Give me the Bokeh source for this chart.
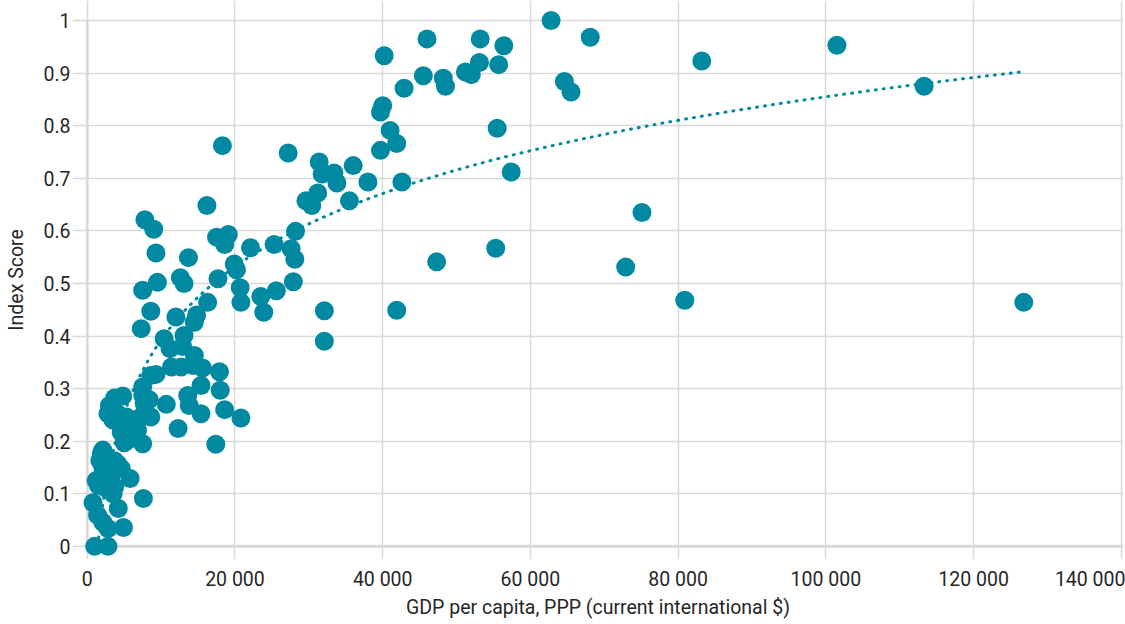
import numpy as np
from bokeh.plotting import figure
from bokeh.models import Range1d, FixedTicker, ColumnDataSource
from bokeh.embed import file_html
from bokeh.resources import INLINE

# GDP per capita, PPP (current international $)
gdp = [
    62800, 68100, 83200, 101500, 113300, 64600, 65500, 75100, 72900, 80900,
    126800, 46000, 53200, 56400, 53100, 55700, 51200, 52000, 45500, 48200,
    48500, 55500, 57400, 55300, 47300, 41900, 40200, 42900, 40000, 39700,
    41000, 41900, 39700, 42600, 38000, 36000, 31400, 31800, 33400, 33800,
    27200, 29600, 30400, 31200, 35500, 28200, 27600, 28100, 27900, 32100,
    32100, 18300, 16200, 7800, 9000, 17500, 19100, 18600, 9300, 13700,
    22100, 25300, 19900, 20200, 12600, 13100, 9500, 7500, 17700, 20700,
    20800, 23500, 23900, 25600, 8600, 12000, 16300, 14800, 14500, 7300,
    10400, 11200, 13100, 12900, 14500, 14300, 11400, 12700, 8600, 9300,
    15600, 17900, 15400, 18000, 13600, 13800, 10700, 7500, 7500, 7700,
    8400, 3700, 4800, 3200, 4100, 7700, 8600, 15400, 18600, 20800,
    12300, 17400, 7600, 7500, 5800, 4900, 4200, 1000, 2800, 770,
    1400, 2100, 2800, 1200, 1900, 1500, 2600, 3200, 3700, 3500,
    4100, 4600, 1900, 1700, 2100, 2800, 3700, 2100, 3900, 4600,
    5700, 6800, 5000, 3500, 2800, 5300, 7300, 5500, 1900, 3000,
]

# Index Score
score = [
    1.000, 0.968, 0.923, 0.953, 0.875, 0.884, 0.864, 0.635, 0.531, 0.468,
    0.464, 0.965, 0.965, 0.952, 0.920, 0.916, 0.902, 0.897, 0.895, 0.890,
    0.875, 0.795, 0.712, 0.567, 0.541, 0.449, 0.933, 0.871, 0.838, 0.826,
    0.791, 0.766, 0.753, 0.693, 0.693, 0.724, 0.731, 0.708, 0.710, 0.691,
    0.748, 0.657, 0.648, 0.672, 0.657, 0.599, 0.566, 0.546, 0.503, 0.448,
    0.390, 0.762, 0.648, 0.621, 0.603, 0.588, 0.593, 0.574, 0.558, 0.549,
    0.568, 0.574, 0.537, 0.526, 0.511, 0.500, 0.502, 0.487, 0.509, 0.492,
    0.464, 0.475, 0.445, 0.486, 0.447, 0.436, 0.464, 0.440, 0.426, 0.414,
    0.395, 0.376, 0.401, 0.380, 0.363, 0.344, 0.341, 0.341, 0.325, 0.327,
    0.339, 0.332, 0.306, 0.297, 0.287, 0.268, 0.270, 0.303, 0.288, 0.272,
    0.279, 0.282, 0.286, 0.268, 0.252, 0.252, 0.246, 0.252, 0.260, 0.244,
    0.224, 0.194, 0.091, 0.195, 0.129, 0.036, 0.072, 0.000, 0.000, 0.083,
    0.059, 0.046, 0.034, 0.125, 0.129, 0.116, 0.110, 0.132, 0.113, 0.100,
    0.157, 0.148, 0.176, 0.163, 0.151, 0.144, 0.163, 0.183, 0.240, 0.217,
    0.214, 0.221, 0.197, 0.240, 0.252, 0.246, 0.246, 0.202, 0.170, 0.268,
]

x_ticks = [0, 20000, 40000, 60000, 80000, 100000, 120000, 140000]
x_tick_labels = ["0", "20 000", "40 000", "60 000", "80 000", "100 000", "120 000", "140 000"]
y_ticks = [0, 0.1, 0.2, 0.3, 0.4, 0.5, 0.6, 0.7, 0.8, 0.9, 1]
y_tick_labels = ["0", "0.1", "0.2", "0.3", "0.4", "0.5", "0.6", "0.7", "0.8", "0.9", "1"]

TEAL = "#0089A0"
GRID = "#D9D9D9"
TEXT = "#262626"
FONT = "Roboto"

# logarithmic trend line fitted on the data
a, b = np.polyfit(np.log(gdp), score, 1)
tx = np.geomspace(min(gdp), max(gdp), 400)
ty = a * np.log(tx) + b
keep = ty >= 0
trend = ColumnDataSource(dict(x=tx[keep], y=ty[keep]))

X_END = 140300
p = figure(width=1125, height=624,
           x_range=Range1d(-2000, X_END), y_range=Range1d(-0.025, 1.038),
           output_backend="svg", toolbar_location=None,
           min_border_left=72, min_border_right=2, min_border_top=0, min_border_bottom=65)
p.outline_line_color = None
p.background_fill_color = "white"
p.border_fill_color = "white"

# grid
p.xgrid.ticker = FixedTicker(ticks=x_ticks)
p.ygrid.ticker = FixedTicker(ticks=y_ticks)
p.xgrid.grid_line_color = GRID
p.ygrid.grid_line_color = GRID
p.xgrid.grid_line_width = 1.5
p.ygrid.grid_line_width = 1.5

# axis lines at x=0 and y=0
p.segment(x0=[0], y0=[0], x1=[0], y1=[1], line_color=GRID, line_width=2.5)
p.segment(x0=[0], y0=[0], x1=[X_END], y1=[0], line_color=GRID, line_width=3)

# axes
for ax, ticks, labels in ((p.xaxis[0], x_ticks, x_tick_labels), (p.yaxis[0], y_ticks, y_tick_labels)):
    ax.ticker = FixedTicker(ticks=ticks)
    ax.major_label_overrides = {t: l for t, l in zip(ticks, labels)}
    ax.axis_line_color = None
    ax.major_tick_line_color = None
    ax.minor_tick_line_color = None
    ax.major_tick_out = 0
    ax.major_tick_in = 0
    ax.minor_tick_out = 0
    ax.minor_tick_in = 0
    ax.major_label_text_font = FONT
    ax.major_label_text_font_size = "19.5px"
    ax.major_label_text_color = TEXT
    ax.axis_label_text_font = FONT
    ax.axis_label_text_font_size = "19.5px"
    ax.axis_label_text_font_style = "normal"
    ax.axis_label_text_color = TEXT

p.xaxis.axis_label = "GDP per capita, PPP (current international $)"
p.yaxis.axis_label = "Index Score"
p.xaxis.major_label_standoff = 8
p.xaxis.axis_label_standoff = 2
p.yaxis.major_label_standoff = 2
p.yaxis.axis_label_standoff = 12

p.scatter(x=gdp, y=score, size=19, fill_color=TEAL, line_color=None)
p.line("x", "y", source=trend, line_color=TEAL, line_width=3, line_dash="1 7", line_cap="round")

open("out.html", "w").write(file_html(p, INLINE))
